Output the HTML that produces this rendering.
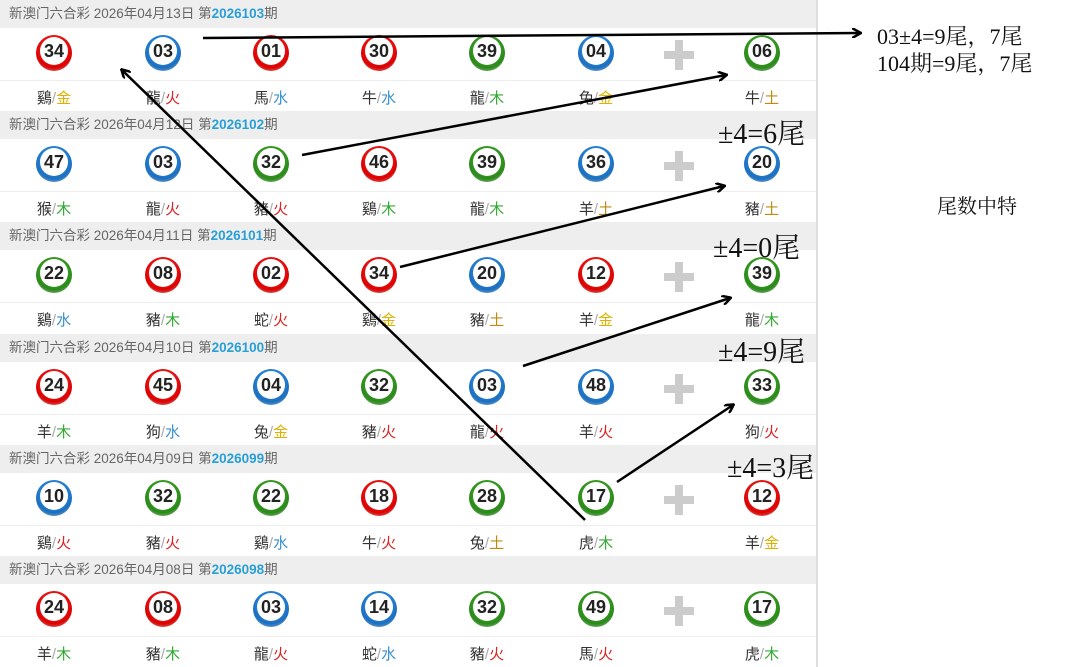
<!DOCTYPE html>
<html><head><meta charset="utf-8"><style>
body{margin:0;width:1073px;height:667px;background:#fff;position:relative;overflow:hidden;font-family:"Liberation Sans","Noto Sans CJK SC",sans-serif}
.panel{position:absolute;left:0;top:0;width:816px;height:667px;border-right:2px solid #ddd}
.hd{position:absolute;left:0;width:816px;height:28px;background:#eeeeee;color:#666;font-size:13.5px;line-height:28px;padding-left:9px;box-sizing:border-box}
.hd b{color:#2a9fd6}
.sep{position:absolute;left:0;width:816px;height:1px;background:#eee}
.ball{position:absolute;width:36px;height:36px;border-radius:50%;text-align:center}
.ball span{position:absolute;left:4px;top:2px;width:28px;height:28px;border-radius:50%;background:radial-gradient(circle at 50% 45%,#fff 0,#fff 70%,#e8e8e8 100%);font-weight:bold;font-size:18px;line-height:28px;color:#222}
.r{background:radial-gradient(circle at 50% 40%,#f44 0,#d00 65%,#c8c8c8 100%)}
.b{background:radial-gradient(circle at 50% 40%,#4af 0,#1a6fc0 65%,#c8c8c8 100%)}
.g{background:radial-gradient(circle at 50% 40%,#5b3 0,#2a8a1a 65%,#c8c8c8 100%)}
.lb{position:absolute;width:60px;text-align:center;font-size:15px;color:#333}
.lb i{font-style:normal;color:#aaa}
.金{color:#e0b000}.木{color:#3a3}.水{color:#3990d0}.火{color:#d22}.土{color:#c08a10}
.plus{position:absolute;width:30px;height:30px}
.plus:before{content:"";position:absolute;left:11px;top:0;width:8px;height:30px;background:#ccc}
.plus:after{content:"";position:absolute;left:0;top:11px;width:30px;height:8px;background:#ccc}
.ann{position:absolute;font-family:"Liberation Serif","Noto Serif CJK SC",serif;color:#111}
</style></head><body>
<div class="panel" id="p"></div>
<div class="ann" style="left:718px;top:112px;font-size:28px">±4=6尾</div>
<div class="ann" style="left:713px;top:226px;font-size:28px">±4=0尾</div>
<div class="ann" style="left:718px;top:330px;font-size:28px">±4=9尾</div>
<div class="ann" style="left:727px;top:446px;font-size:28px">±4=3尾</div>
<div class="ann" style="left:877px;top:23px;font-size:22px;line-height:27px">03±4=9尾，7尾<br>104期=9尾，7尾</div>
<div class="ann" style="left:937px;top:190px;font-size:20px">尾数中特</div>
<svg width="1073" height="667" style="position:absolute;left:0;top:0" fill="none" stroke="#000" stroke-width="2.5">
<defs><marker id="a" markerWidth="10" markerHeight="10" refX="8" refY="5" orient="auto" markerUnits="userSpaceOnUse"><path d="M0,0 L9,5 L0,10" stroke="#000" stroke-width="2.5" fill="none"/></marker></defs>
<line x1="203" y1="38" x2="860" y2="33" marker-end="url(#a)"/>
<line x1="585" y1="520" x2="122" y2="70" marker-end="url(#a)"/>
<line x1="302" y1="155" x2="726" y2="75" marker-end="url(#a)"/>
<line x1="400" y1="267" x2="724" y2="186" marker-end="url(#a)"/>
<line x1="523" y1="366" x2="730" y2="298" marker-end="url(#a)"/>
<line x1="617" y1="482" x2="733" y2="405" marker-end="url(#a)"/>
</svg>
<script>
var rows=[["2026年04月13日","2026103",[["34","r","鷄","金"],["03","b","龍","火"],["01","r","馬","水"],["30","r","牛","水"],["39","g","龍","木"],["04","b","兔","金"],["06","g","牛","土"]]],
["2026年04月12日","2026102",[["47","b","猴","木"],["03","b","龍","火"],["32","g","豬","火"],["46","r","鷄","木"],["39","g","龍","木"],["36","b","羊","土"],["20","b","豬","土"]]],
["2026年04月11日","2026101",[["22","g","鷄","水"],["08","r","豬","木"],["02","r","蛇","火"],["34","r","鷄","金"],["20","b","豬","土"],["12","r","羊","金"],["39","g","龍","木"]]],
["2026年04月10日","2026100",[["24","r","羊","木"],["45","r","狗","水"],["04","b","兔","金"],["32","g","豬","火"],["03","b","龍","火"],["48","b","羊","火"],["33","g","狗","火"]]],
["2026年04月09日","2026099",[["10","b","鷄","火"],["32","g","豬","火"],["22","g","鷄","水"],["18","r","牛","火"],["28","g","兔","土"],["17","g","虎","木"],["12","r","羊","金"]]],
["2026年04月08日","2026098",[["24","r","羊","木"],["08","r","豬","木"],["03","b","龍","火"],["14","b","蛇","水"],["32","g","豬","火"],["49","g","馬","火"],["17","g","虎","木"]]]];
var xs=[54,163,271,379,487,596,762],h="";
rows.forEach(function(r,i){var t=i*111.2;
h+='<div class="hd" style="top:'+t+'px">新澳门六合彩 '+r[0]+' 第<b>'+r[1]+'</b>期</div>';
h+='<div class="sep" style="top:'+(t+80)+'px"></div>';
h+='<div class="plus" style="left:664px;top:'+(t+40)+'px"></div>';
r[2].forEach(function(b,j){var x=xs[j];
h+='<div class="ball '+b[1]+'" style="left:'+(x-18)+'px;top:'+(t+35)+'px"><span>'+b[0]+'</span></div>';
h+='<div class="lb" style="left:'+(x-30)+'px;top:'+(t+87)+'px">'+b[2]+'<i>/</i><span class="'+b[3]+'">'+b[3]+'</span></div>';});});
document.getElementById('p').innerHTML=h;
</script>
</body></html>
